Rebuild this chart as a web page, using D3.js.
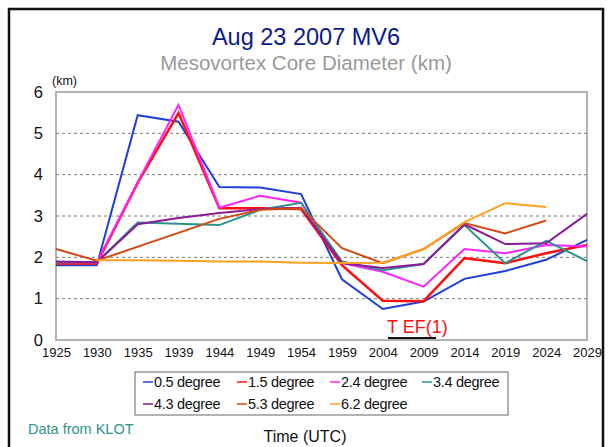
<!DOCTYPE html>
<html>
<head>
<meta charset="utf-8">
<script src="https://cdn.jsdelivr.net/npm/d3@7"></script>
<style>
  body { margin: 0; background: #fff; }
  svg { font-family: "Liberation Sans", Arial, sans-serif; }
  .grid line { stroke: #777; stroke-dasharray: 3,3; }
  .axis path, .axis line { stroke: #999; }
</style>
</head>
<body>
<div id="chart"></div>
<script>
// times along the bottom
var times = ["1925","1930","1935","1939","1944","1949","1954","1959","2004","2009","2014","2019","2024","2029"];
var yTicks = [0, 1, 2, 3, 4, 5, 6];

// core diameter (km) per elevation angle
var deg05 = [1.81, 1.81, 5.44, 5.28, 3.70, 3.69, 3.53, 1.47, 0.75, 0.93, 1.48, 1.67, 1.94, 2.42];
var deg15 = [1.85, 1.85, 3.80, 5.49, 3.19, 3.19, 3.17, 1.81, 0.95, 0.94, 1.98, 1.86, 2.10, 2.30];
var deg24 = [1.88, 1.88, 3.82, 5.69, 3.20, 3.49, 3.32, 1.86, 1.65, 1.29, 2.20, 2.10, 2.30, 2.26];
var deg34 = [1.88, 1.88, 2.84, 2.81, 2.78, 3.15, 3.32, 1.90, 1.69, 1.84, 2.78, 1.86, 2.40, 1.91];
var deg43 = [1.90, 1.88, 2.80, 2.95, 3.07, 3.17, 3.20, 1.86, 1.74, 1.84, 2.80, 2.32, 2.34, 3.05];
var deg53 = [2.20, 1.92, null, null, 2.93, 3.15, 3.19, 2.22, 1.86, 2.20, 2.83, 2.58, 2.89, null];
var deg62 = [null, 1.93, 1.93, 1.92, 1.90, 1.90, 1.87, 1.86, 1.87, 2.20, 2.85, 3.31, 3.22, null];

var seriesNames = ["0.5 degree","1.5 degree","2.4 degree","3.4 degree","4.3 degree","5.3 degree","6.2 degree"];
var seriesColors = ["#1f3fd6","#ff1010","#ff22ff","#2a948c","#8a1a96","#d44a14","#ffa020"];
var seriesValues = [deg05, deg15, deg24, deg34, deg43, deg53, deg62];
var seriesWidths = [2, 2.5, 2, 2, 2, 2, 2];

var W = 613, H = 447;
var plot = {left: 56, right: 587, top: 92, bottom: 340};

var svg = d3.select("#chart").append("svg")
    .attr("width", W)
    .attr("height", H);

// outer frame
svg.append("rect")
    .attr("x", 9).attr("y", 9)
    .attr("width", 594).attr("height", 460)
    .attr("fill", "none")
    .attr("stroke", "#111")
    .attr("stroke-width", 2.5);

var x = d3.scalePoint().domain(times).range([plot.left, plot.right]);
var y = d3.scaleLinear().domain([0, 6]).range([plot.bottom, plot.top]);

// titles
svg.append("text")
    .attr("x", 306).attr("y", 45)
    .attr("text-anchor", "middle")
    .attr("font-size", 23.5)
    .attr("fill", "#0a1a8c")
    .text("Aug 23 2007 MV6");

svg.append("text")
    .attr("x", 306).attr("y", 70)
    .attr("text-anchor", "middle")
    .attr("font-size", 20.5)
    .attr("fill", "#999")
    .text("Mesovortex Core Diameter (km)");

svg.append("text")
    .attr("x", 52).attr("y", 85)
    .attr("font-size", 12.5)
    .attr("fill", "#111")
    .text("(km)");

// dashed grid
svg.append("g")
    .attr("class", "grid")
    .selectAll("line")
    .data(yTicks.filter(function(d) { return d > 0 && d < 6; }))
    .enter().append("line")
    .attr("x1", plot.left).attr("x2", plot.right)
    .attr("y1", function(d) { return y(d); })
    .attr("y2", function(d) { return y(d); });

// plot frame
svg.append("rect")
    .attr("x", plot.left).attr("y", plot.top)
    .attr("width", plot.right - plot.left)
    .attr("height", plot.bottom - plot.top)
    .attr("fill", "none")
    .attr("stroke", "#999")
    .attr("stroke-width", 1.5);

var yAxis = d3.axisLeft(y).tickValues(yTicks).tickFormat(d3.format("d")).tickSize(0).tickPadding(13);
var gy = svg.append("g")
    .attr("class", "axis")
    .attr("transform", "translate(" + plot.left + ",0)")
    .call(yAxis);
gy.select(".domain").remove();
gy.selectAll("text")
    .attr("font-size", 16.5)
    .attr("font-family", "Liberation Sans, Arial, sans-serif")
    .attr("fill", "#111");

var xAxis = d3.axisBottom(x).tickSize(0).tickPadding(8);
var gx = svg.append("g")
    .attr("class", "axis")
    .attr("transform", "translate(0," + plot.bottom + ")")
    .call(xAxis);
gx.select(".domain").remove();
gx.selectAll("text")
    .attr("font-size", 13)
    .attr("font-family", "Liberation Sans, Arial, sans-serif")
    .attr("fill", "#111");

// the lines
var line = d3.line()
    .x(function(d) { return x(d.t); })
    .y(function(d) { return y(d.v); });

seriesValues.forEach(function(vals, i) {
  var pts = [];
  vals.forEach(function(v, j) { if (v != null) pts.push({t: times[j], v: v}); });
  svg.append("path")
      .datum(pts)
      .attr("fill", "none")
      .attr("stroke", seriesColors[i])
      .attr("stroke-width", seriesWidths[i])
      .attr("stroke-linejoin", "miter")
      .attr("d", line);
});

// tornado annotation
svg.append("text")
    .attr("x", 387).attr("y", 333)
    .attr("font-size", 18)
    .attr("fill", "#ff1010")
    .text("T EF(1)");
svg.append("line")
    .attr("x1", 388).attr("x2", 436)
    .attr("y1", 338).attr("y2", 338)
    .attr("stroke", "#111")
    .attr("stroke-width", 2);

// legend
var legend = svg.append("g");
legend.append("rect")
    .attr("x", 135).attr("y", 372)
    .attr("width", 373).attr("height", 43)
    .attr("fill", "#fff")
    .attr("stroke", "#666")
    .attr("stroke-width", 1);

var colX = [143, 237, 330, 422];
var rowY = [382, 404];
var item = legend.selectAll(".item")
    .data(seriesNames)
    .enter().append("g")
    .attr("transform", function(d, i) {
      return "translate(" + colX[i % 4] + "," + rowY[Math.floor(i / 4)] + ")";
    });
item.append("line")
    .attr("x1", 0).attr("x2", 10)
    .attr("stroke", function(d, i) { return seriesColors[i]; })
    .attr("stroke-width", 1.5);
item.append("text")
    .attr("x", 11).attr("y", 5)
    .attr("font-size", 14.5)
    .attr("letter-spacing", -0.3)
    .attr("fill", "#111")
    .text(function(d) { return d; });

svg.append("text")
    .attr("x", 28).attr("y", 434)
    .attr("font-size", 14.5)
    .attr("fill", "#2a948c")
    .text("Data from KLOT");

svg.append("text")
    .attr("x", 305).attr("y", 442)
    .attr("text-anchor", "middle")
    .attr("font-size", 16)
    .attr("fill", "#111")
    .text("Time (UTC)");
</script>
</body>
</html>
